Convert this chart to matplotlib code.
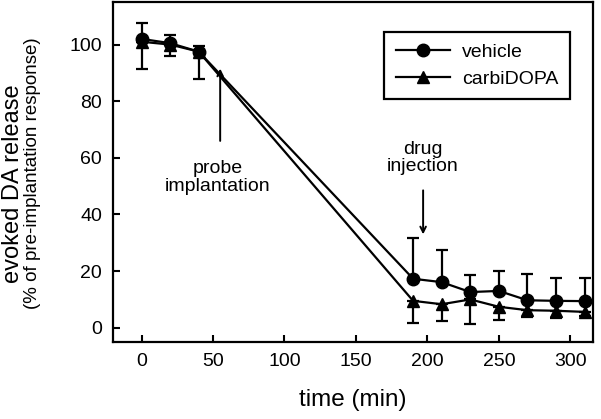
import matplotlib
matplotlib.use("Agg")
import matplotlib.pyplot as plt
import numpy as np

plt.rcParams['font.family'] = ['Liberation Sans', 'DejaVu Sans']

# data (vehicle: upper SEM only, carbiDOPA: lower SEM only)
time = [0, 20, 40, 190, 210, 230, 250, 270, 290, 310]
vehicle = [102, 100.5, 97.5, 17.3, 16.1, 12.6, 13.0, 9.7, 9.5, 9.4]
vehicle_err = [5.5, 3.0, 2.0, 14.4, 11.5, 6.2, 7.0, 9.4, 8.2, 8.3]
carbidopa = [101, 100, 97.5, 9.5, 8.3, 10.0, 7.4, 6.2, 6.0, 5.6]
carbidopa_err = [9.5, 4.0, 9.5, 8.0, 5.8, 8.7, 4.7, 2.3, 2.4, 1.5]

xticks = [0, 50, 100, 150, 200, 250, 300]
yticks = [0, 20, 40, 60, 80, 100]

fig = plt.figure(figsize=(6.01, 4.19), dpi=100)
ax = fig.add_axes([0.188, 0.184, 0.799, 0.811])

zeros = np.zeros(len(time))
eb1 = ax.errorbar(time, vehicle, yerr=[zeros, vehicle_err], color='black',
                  marker='o', markersize=9, linewidth=1.6, elinewidth=1.6,
                  capsize=4, capthick=1.6, zorder=3)
eb2 = ax.errorbar(time, carbidopa, yerr=[carbidopa_err, zeros], color='black',
                  marker='^', markersize=9, linewidth=1.6, elinewidth=1.6,
                  capsize=4, capthick=1.6, zorder=3)

ax.set_xlim(-20, 316)
ax.set_ylim(-5, 115)
ax.set_xticks(xticks)
ax.set_yticks(yticks)
ax.tick_params(direction='in', length=5, width=1.5, labelsize=14, pad=8)
for s in ax.spines.values():
    s.set_linewidth(1.6)

ax.set_xlabel('time (min)', fontsize=17.5, labelpad=14)
fig.text(0.021, 0.562, 'evoked DA release', rotation=90, fontsize=17,
         ha='center', va='center')
fig.text(0.054, 0.587, '(% of pre-implantation response)', rotation=90,
         fontsize=13.5, ha='center', va='center')

# annotations
ax.annotate('', xy=(55, 92.5), xytext=(55, 65),
            arrowprops=dict(arrowstyle='->', color='black', lw=1.4))
ax.text(53, 53, 'probe\nimplantation', ha='center', va='center',
        fontsize=14, linespacing=1.05)
ax.annotate('', xy=(197, 32), xytext=(197, 49.5),
            arrowprops=dict(arrowstyle='->', color='black', lw=1.4))
ax.text(197, 60, 'drug\ninjection', ha='center', va='center',
        fontsize=14, linespacing=1.05)

leg = ax.legend([eb1[0], eb2[0]], ['vehicle', 'carbiDOPA'], loc='upper right',
                bbox_to_anchor=(0.952, 0.912), borderaxespad=0, fontsize=14,
                handlelength=2.8, handletextpad=0.6, labelspacing=0.45,
                borderpad=0.6, fancybox=False, framealpha=1)
leg.get_frame().set_edgecolor('black')
leg.get_frame().set_linewidth(1.6)

fig.savefig('out.png', dpi=100)
